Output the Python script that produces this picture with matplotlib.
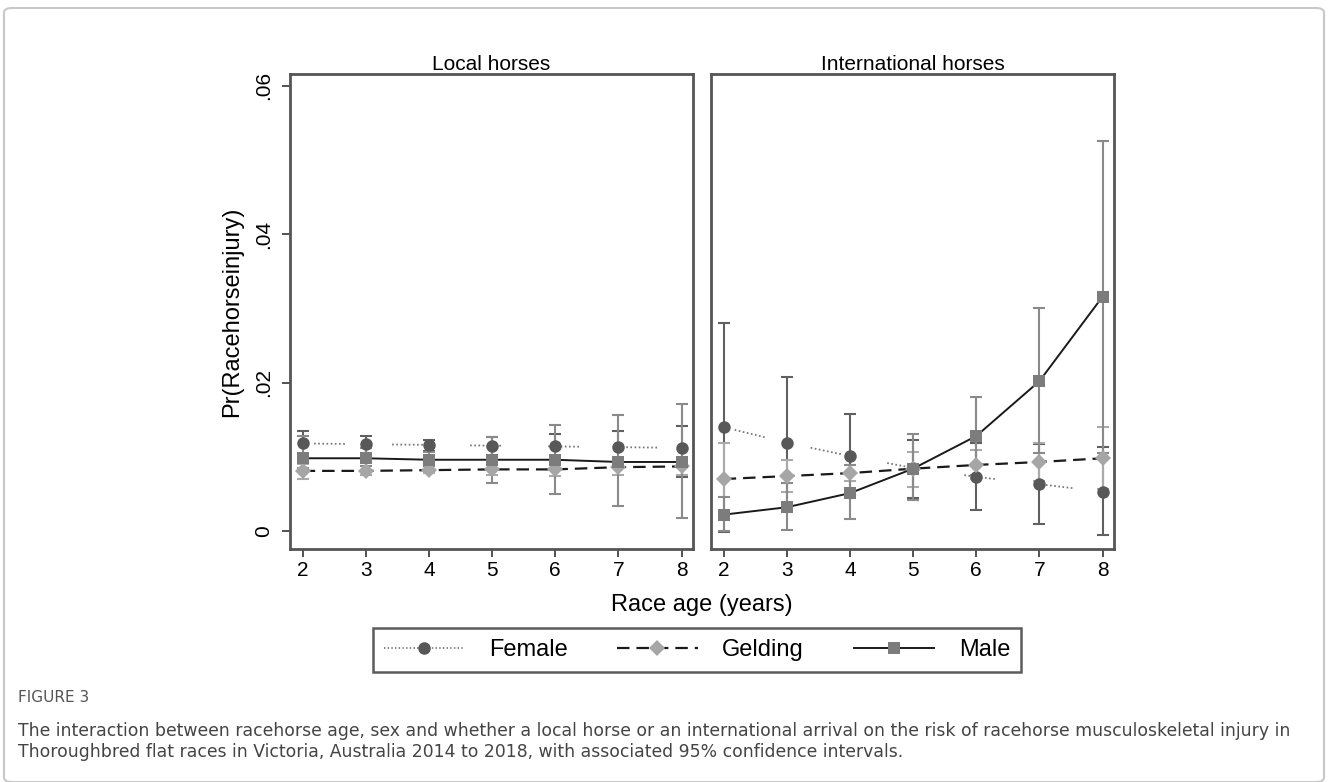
import matplotlib
matplotlib.use("Agg")
import matplotlib.pyplot as plt
from matplotlib.lines import Line2D
from matplotlib.patches import FancyBboxPatch

plt.rcParams['font.family'] = ['Liberation Sans', 'DejaVu Sans']
plt.rcParams['lines.scale_dashes'] = False

# Daten
ages = [2, 3, 4, 5, 6, 7, 8]
panels = ["Local horses", "International horses"]

# Local horses
loc_female = [0.0118, 0.0117, 0.0116, 0.0115, 0.0114, 0.0113, 0.0112]
loc_female_lo = [0.0100, 0.0105, 0.0108, 0.0103, 0.0097, 0.0090, 0.0073]
loc_female_hi = [0.0135, 0.0128, 0.0123, 0.0127, 0.0131, 0.0135, 0.0141]
loc_gelding = [0.0081, 0.0081, 0.0082, 0.0083, 0.0083, 0.0086, 0.0087]
loc_gelding_lo = [0.0070, 0.0076, 0.0078, 0.0076, 0.0074, 0.0076, 0.0075]
loc_gelding_hi = [0.0090, 0.0087, 0.0087, 0.0090, 0.0092, 0.0096, 0.0099]
loc_male = [0.0098, 0.0098, 0.0096, 0.0096, 0.0096, 0.0093, 0.0093]
loc_male_lo = [0.0085, 0.0088, 0.0088, 0.0065, 0.0050, 0.0033, 0.0018]
loc_male_hi = [0.0128, 0.0112, 0.0106, 0.0127, 0.0143, 0.0157, 0.0171]

# International horses
int_female = [0.0140, 0.0119, 0.0101, 0.0085, 0.0073, 0.0063, 0.0053]
int_female_lo = [-0.0001, 0.0030, 0.0044, 0.0045, 0.0028, 0.0009, -0.0005]
int_female_hi = [0.0281, 0.0208, 0.0158, 0.0123, 0.0118, 0.0117, 0.0113]
int_gelding = [0.0070, 0.0074, 0.0078, 0.0084, 0.0089, 0.0093, 0.0098]
int_gelding_lo = [0.0021, 0.0052, 0.0068, 0.0059, 0.0070, 0.0068, 0.0056]
int_gelding_hi = [0.0119, 0.0096, 0.0089, 0.0107, 0.0109, 0.0118, 0.0140]
int_male = [0.0022, 0.0032, 0.0051, 0.0084, 0.0128, 0.0202, 0.0316]
int_male_lo = [0.0000, 0.0001, 0.0016, 0.0042, 0.0075, 0.0105, 0.0105]
int_male_hi = [0.0046, 0.0064, 0.0089, 0.0131, 0.0181, 0.0301, 0.0526]

yticks = [0, 0.02, 0.04, 0.06]
ytick_labels = ["0", ".02", ".04", ".06"]

# Stil je Geschlecht (gepunktete Linie erscheint im Original nur stückweise)
dot_dash = (48, [1.2, 1.8] * 7 + [1.2, 34])
styles = {
    "Female": dict(marker="o", mcol="#585858", ecol="#606060", lcol="#777777", ls=dot_dash, lw=1.3, ms=9),
    "Gelding": dict(marker="D", mcol="#a6a6a6", ecol="#aaaaaa", lcol="#1a1a1a", ls=(0, (9, 5)), lw=1.6, ms=8),
    "Male": dict(marker="s", mcol="#7c7c7c", ecol="#8a8a8a", lcol="#1a1a1a", ls="-", lw=1.4, ms=8.5),
}

data = [
    {"Female": (loc_female, loc_female_lo, loc_female_hi),
     "Gelding": (loc_gelding, loc_gelding_lo, loc_gelding_hi),
     "Male": (loc_male, loc_male_lo, loc_male_hi)},
    {"Female": (int_female, int_female_lo, int_female_hi),
     "Gelding": (int_gelding, int_gelding_lo, int_gelding_hi),
     "Male": (int_male, int_male_lo, int_male_hi)},
]

W, H = 1328, 782
fig = plt.figure(figsize=(W / 100, H / 100), dpi=100)

# Rahmen um die ganze Abbildung
frame = FancyBboxPatch((4 / W, 0.0), 1320 / W, 1 - 8 / H, boxstyle="round,pad=0,rounding_size=0.006",
                       transform=fig.transFigure, fill=False, edgecolor="#c8c8c8", linewidth=1.5,
                       clip_on=False)
fig.patches.append(frame)

ax_bottom = 1 - 549 / H
ax_height = (549 - 74) / H
lefts = [290 / W, 711 / W]
width = (693 - 290) / W

axes = []
for i, name in enumerate(panels):
    ax = fig.add_axes([lefts[i], ax_bottom, width, ax_height])
    axes.append(ax)
    for sex in ["Female", "Gelding", "Male"]:
        st = styles[sex]
        y, lo, hi = data[i][sex]
        yerr = [[v - l for v, l in zip(y, lo)], [h - v for v, h in zip(y, hi)]]
        ax.errorbar(ages, y, yerr=yerr, fmt="none", ecolor=st["ecol"], elinewidth=1.5,
                    capsize=4.5, capthick=1.5, zorder=2)
        ax.plot(ages, y, color=st["lcol"], linestyle=st["ls"], linewidth=st["lw"], zorder=3)
        ax.plot(ages, y, linestyle="none", marker=st["marker"], color=st["mcol"],
                markersize=st["ms"], markeredgewidth=0, zorder=4)
    ax.set_xlim(1.8, 8.18)
    ax.set_ylim(-0.00243, 0.0616)
    ax.set_xticks(ages)
    ax.set_xticklabels([str(a) for a in ages], fontsize=15)
    ax.tick_params(axis="x", direction="out", length=6, width=1.3, color="#444444", pad=3)
    ax.set_title(name, fontsize=15, pad=3)
    for sp in ax.spines.values():
        sp.set_color("#555555")
        sp.set_linewidth(2)
    if i == 0:
        ax.set_yticks(yticks)
        ax.set_yticklabels(ytick_labels, fontsize=15, rotation=90, va="center")
        ax.tick_params(axis="y", direction="out", length=6, width=1.3, color="#444444", pad=6)
        ax.set_ylabel("Pr(Racehorseinjury)", fontsize=17, labelpad=8)
    else:
        ax.set_yticks([])

fig.text(702 / W, 1 - 605 / H, "Race age (years)", fontsize=17, ha="center", va="center")

# Legende
handles = []
for sex in ["Female", "Gelding", "Male"]:
    st = styles[sex]
    handles.append(Line2D([0], [0], color=st["lcol"], linestyle=st["ls"] if sex != "Female" else ":",
                          linewidth=st["lw"], marker=st["marker"], markerfacecolor=st["mcol"],
                          markeredgewidth=0, markersize=st["ms"]))
leg = fig.legend(handles, ["Female", "Gelding", "Male"], loc="center",
                 bbox_to_anchor=(697 / W, 1 - 650 / H), ncol=3, fontsize=17, frameon=True,
                 fancybox=False, edgecolor="#333333", handlelength=3.4, handletextpad=1.05,
                 columnspacing=2.1, borderpad=0.45)
leg.get_frame().set_linewidth(1.8)

# Beschriftung
cap_font = ['DejaVu Sans']
fig.text(18 / W, 1 - 697 / H, "FIGURE 3", fontsize=11, color="#555555", family=cap_font, va="center")
fig.text(18 / W, 1 - 731 / H,
         "The interaction between racehorse age, sex and whether a local horse or an international arrival "
         "on the risk of racehorse musculoskeletal injury in",
         fontsize=12.4, color="#444444", family=cap_font, va="center")
fig.text(18 / W, 1 - 752 / H,
         "Thoroughbred flat races in Victoria, Australia 2014 to 2018, with associated 95% confidence intervals.",
         fontsize=12.4, color="#444444", family=cap_font, va="center")

fig.savefig("out.png", dpi=100)
